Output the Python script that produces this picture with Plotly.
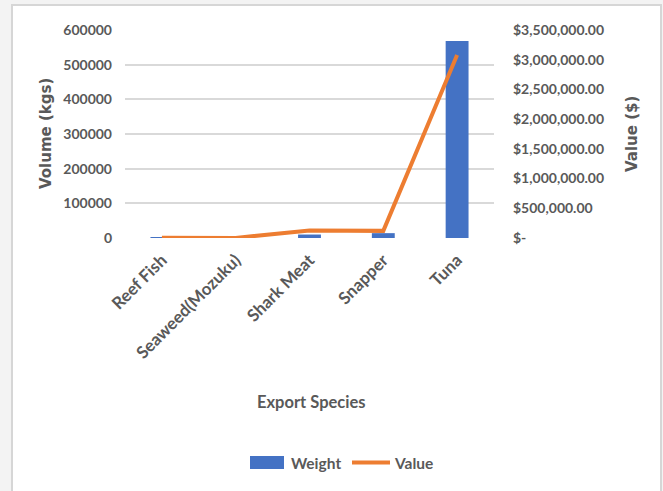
import plotly.graph_objects as go

# Export data by species
species = ["Reef Fish", "Seaweed(Mozuku)", "Shark Meat", "Snapper", "Tuna"]
weight_kg = [150, 100, 10000, 14000, 568000]
value_usd = [3000, 2000, 125000, 120000, 3080000]

# Axis ticks
left_ticks = [0, 100000, 200000, 300000, 400000, 500000, 600000]
right_ticks = [0, 500000, 1000000, 1500000, 2000000, 2500000, 3000000, 3500000]
right_tick_text = ["$-", "$500,000.00", "$1,000,000.00", "$1,500,000.00",
                   "$2,000,000.00", "$2,500,000.00", "$3,000,000.00", "$3,500,000.00"]

FONT = "Lato"
WIDE = "DejaVu Sans"
GREY = "#595959"
BLUE = "#4472C4"
ORANGE = "#ED7D31"

fig = go.Figure()
fig.add_trace(go.Bar(
    x=species, y=weight_kg, name="Weight",
    marker=dict(color=BLUE, line=dict(width=0)),
    width=0.31, yaxis="y", showlegend=False,
))
fig.add_trace(go.Scatter(
    x=species, y=value_usd, name="Value", mode="lines",
    line=dict(color=ORANGE, width=4), yaxis="y2", showlegend=False,
))

W, H = 663, 491
L, R, T, B = 125, 169, 30, 253
pw, ph = W - L - R, H - T - B

def px(xp):
    return (xp - L) / pw

def py(yp):
    return (H - B - yp) / ph

bold = lambda size, fam=FONT: dict(family=fam, size=size, color=GREY, weight="bold")

fig.update_layout(
    width=W, height=H,
    margin=dict(l=L, r=R, t=T, b=B),
    paper_bgcolor="#f3f3f3",
    plot_bgcolor="rgba(0,0,0,0)",
    font=dict(family=FONT, color=GREY, size=14),
    xaxis=dict(
        type="category", tickangle=-45, showgrid=False, zeroline=False,
        showline=False, ticks="", ticklabelstandoff=8,
        tickfont=bold(17),
    ),
    yaxis=dict(
        range=[0, 600000], tickvals=left_ticks, ticktext=[str(v) for v in left_ticks],
        showgrid=True, gridcolor="#d9d9d9", gridwidth=1.5, zeroline=False,
        showline=False, ticks="", ticklabelstandoff=12,
        tickfont=bold(14),
    ),
    yaxis2=dict(
        range=[0, 3500000], overlaying="y", side="right",
        tickvals=right_ticks, ticktext=right_tick_text,
        showgrid=False, zeroline=False, showline=False, ticks="",
        ticklabelstandoff=18,
        tickfont=bold(14),
    ),
    shapes=[
        # chart frame
        dict(type="rect", xref="paper", yref="paper", layer="below",
             x0=px(12), x1=px(661), y0=py(500), y1=py(5),
             fillcolor="white", line=dict(color="#d6d6d6", width=2)),
        # legend keys
        dict(type="rect", xref="paper", yref="paper",
             x0=px(250), x1=px(284), y0=py(469), y1=py(456),
             fillcolor=BLUE, line=dict(width=0)),
        dict(type="line", xref="paper", yref="paper",
             x0=px(352), x1=px(390), y0=py(462.5), y1=py(462.5),
             line=dict(color=ORANGE, width=4)),
    ],
    annotations=[
        dict(text="Export Species", xref="paper", yref="paper", x=px(311), y=py(402),
             showarrow=False, xanchor="center", yanchor="middle", font=bold(16.5)),
        dict(text="Volume (kgs)", xref="paper", yref="paper", x=px(46), y=py(134),
             showarrow=False, textangle=-90, xanchor="center", yanchor="middle",
             font=bold(15, WIDE)),
        dict(text="Value ($)", xref="paper", yref="paper", x=px(632), y=py(134),
             showarrow=False, textangle=-90, xanchor="center", yanchor="middle",
             font=bold(15, WIDE)),
        dict(text="Weight", xref="paper", yref="paper", x=px(289), y=py(462.5),
             showarrow=False, xanchor="left", yanchor="middle", font=bold(15.5)),
        dict(text="Value", xref="paper", yref="paper", x=px(392), y=py(462.5),
             showarrow=False, xanchor="left", yanchor="middle", font=bold(15.5)),
    ],
)

fig.write_html("out.html")
